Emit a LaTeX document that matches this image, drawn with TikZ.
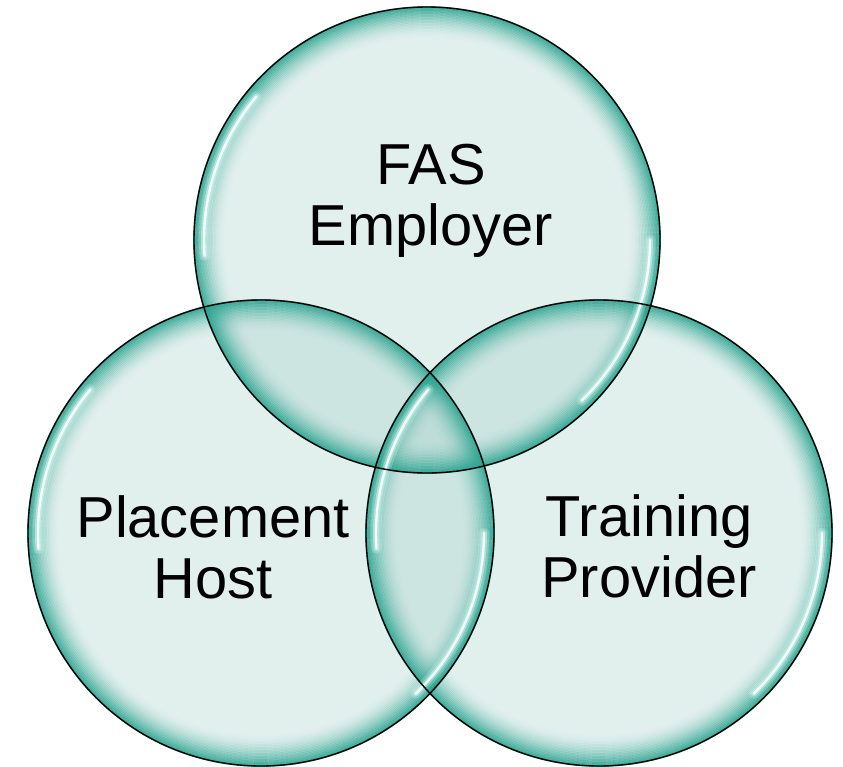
\documentclass[tikz,border=0pt]{standalone}
\usepackage{fontspec}
\setmainfont{Liberation Sans}
\definecolor{tintcol}{RGB}{150,200,192}
\definecolor{rimteal}{RGB}{38,162,142}
\definecolor{glowcol}{RGB}{225,255,250}
\tikzset{
  tint/.style={fill=tintcol, fill opacity=0.28},
  rimline/.style={draw=black, line width=1.4bp},
  glowA/.style={draw=glowcol, line width=11bp, opacity=0.22, line cap=round},
  glowB/.style={draw=glowcol, line width=6bp, opacity=0.4, line cap=round},
  glowC/.style={draw=white, line width=2.4bp, opacity=0.85, line cap=round},
  lbl/.style={align=center, inner sep=0pt, anchor=base, text=black,
    font=\fontsize{58}{61}\selectfont}
}
\newcommand{\glowarc}[3]{% center, start, end
  \foreach \st in {glowA,glowB,glowC}{
    \draw[\st] (#1) ++({-(#2)}:223) arc[start angle={-(#2)}, end angle={-(#3)}, radius=223];
  }}
\newcommand{\rimring}[1]{%
  \foreach \k in {0,1.5,...,31.5}{
    \pgfmathsetmacro\op{0.88*(1-\k/33)^2}
    \draw[rimteal, line width=1.7bp, draw opacity=\op] (#1) circle[radius={233-\k}];
  }}
\begin{document}
\begin{tikzpicture}[x=1bp,y=-1bp]
\useasboundingbox (0,0) rectangle (843,767);
\coordinate (ct) at (427,240);
\coordinate (cl) at (261,533);
\coordinate (cr) at (599,533);
% tints
\foreach \c in {ct,cl,cr}{ \fill[tint] (\c) circle[radius=233]; }
% rims
\rimring{ct}
\rimring{cl}
\rimring{cr}
% highlights
\foreach \c in {ct,cl,cr}{
  \glowarc{\c}{140}{184}
  \glowarc{\c}{-46}{0}
}
% outlines
\foreach \c in {ct,cl,cr}{ \draw[rimline] (\c) circle[radius=233]; }
% labels
\node[lbl] (fas) at (431,245) {FAS\\Employer};
\node[lbl] (host) at (213,598) {Placement\\Host};
\node[lbl] (train) at (649,597) {Training\\Provider};
\end{tikzpicture}
\end{document}
